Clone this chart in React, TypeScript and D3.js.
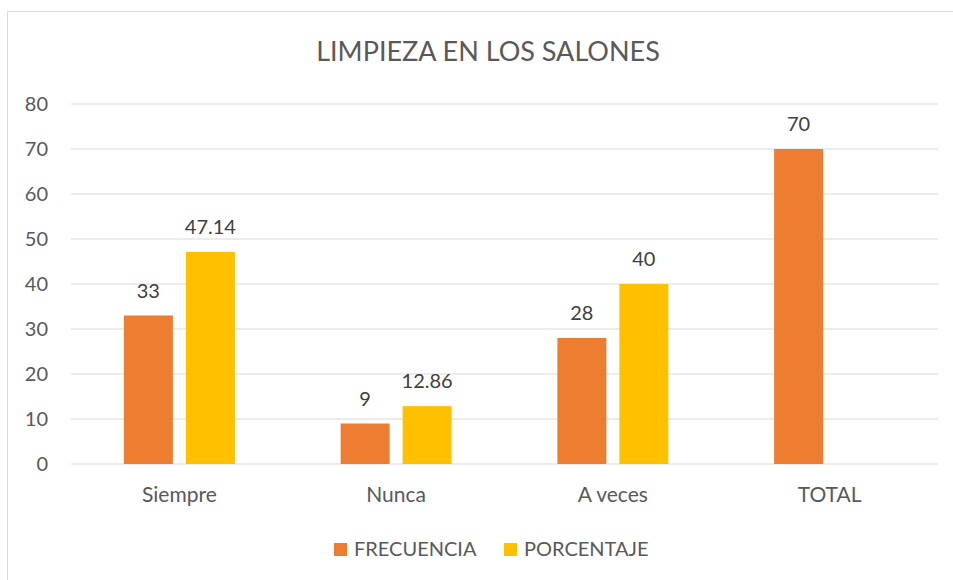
import { useEffect, useRef } from "react";
import * as d3 from "d3";

const categories = ["Siempre", "Nunca", "A veces", "TOTAL"];
const seriesNames = ["FRECUENCIA", "PORCENTAJE"];
const frecuencia = [33, 9, 28, 70];
const porcentaje: (number | null)[] = [47.14, 12.86, 40, null];
const yTicks = [0, 10, 20, 30, 40, 50, 60, 70, 80];
const chartTitle = "LIMPIEZA EN LOS SALONES";

type Row = { cat: string; key: string; value: number };

export default function App() {
  const svgRef = useRef<SVGSVGElement>(null);

  useEffect(() => {
    if (!svgRef.current) return;
    const W = 953, H = 580;
    const margin = { top: 104, right: 15, bottom: 116, left: 71 };
    const width = W - margin.left - margin.right;
    const height = H - margin.top - margin.bottom;
    const font = "Lato, 'Open Sans', sans-serif";
    const textColor = "#595959";

    const svg = d3.select(svgRef.current);
    svg.selectAll("*").remove();

    // chart area border (cut off at right/bottom like the reference)
    svg.append("rect")
      .attr("x", 7.5).attr("y", 11.5)
      .attr("width", W + 20).attr("height", H + 20)
      .attr("fill", "white")
      .attr("stroke", "#d9d9d9")
      .attr("stroke-width", 1);

    svg.append("text")
      .attr("x", 488)
      .attr("y", 61)
      .attr("text-anchor", "middle")
      .attr("font-family", font)
      .attr("font-size", 27)
      .attr("fill", textColor)
      .text(chartTitle);

    const g = svg.append("g")
      .attr("transform", `translate(${margin.left},${margin.top})`);

    const x0 = d3.scaleBand().domain(categories).range([0, width]).padding(0);
    const x1 = d3.scaleBand().domain(seriesNames)
      .range([0, x0.bandwidth()])
      .paddingInner(0.21)
      .paddingOuter(0.853);
    const y = d3.scaleLinear().domain([0, 80]).range([height, 0]);
    const color = d3.scaleOrdinal<string, string>().domain(seriesNames).range(["#ED7D31", "#FFC000"]);

    // gridlines
    g.selectAll("line.grid")
      .data(yTicks)
      .enter()
      .append("line")
      .attr("x1", 0).attr("x2", width)
      .attr("y1", d => y(d)).attr("y2", d => y(d))
      .attr("stroke", "#d9d9d9")
      .attr("stroke-width", 1.2);

    const yAxis = d3.axisLeft<number>(y).tickValues(yTicks).tickSize(0).tickPadding(23);
    const gy = g.append("g").call(yAxis);
    gy.select(".domain").remove();
    gy.selectAll("text")
      .attr("fill", textColor)
      .attr("font-family", font)
      .attr("font-size", 20);

    const xAxis = d3.axisBottom(x0).tickSize(0).tickPadding(23);
    const gx = g.append("g").attr("transform", `translate(0,${height})`).call(xAxis);
    gx.select(".domain").remove();
    gx.selectAll("text")
      .attr("fill", textColor)
      .attr("font-family", font)
      .attr("font-size", 21);

    const rows: Row[] = [];
    categories.forEach((c, i) => {
      rows.push({ cat: c, key: seriesNames[0], value: frecuencia[i] });
      const p = porcentaje[i];
      if (p != null) rows.push({ cat: c, key: seriesNames[1], value: p });
    });

    g.selectAll("rect.bar")
      .data(rows)
      .enter()
      .append("rect")
      .attr("x", d => (x0(d.cat) || 0) + (x1(d.key) || 0))
      .attr("y", d => y(d.value))
      .attr("width", x1.bandwidth())
      .attr("height", d => height - y(d.value))
      .attr("fill", d => color(d.key));

    g.selectAll("text.lbl")
      .data(rows)
      .enter()
      .append("text")
      .attr("x", d => (x0(d.cat) || 0) + (x1(d.key) || 0) + x1.bandwidth() / 2)
      .attr("y", d => y(d.value) - 18)
      .attr("text-anchor", "middle")
      .attr("font-family", font)
      .attr("font-size", 20)
      .attr("fill", "#404040")
      .text(d => String(d.value));

    // legend
    const legendX = [334, 504];
    const lg = svg.append("g");
    lg.selectAll("rect")
      .data(seriesNames)
      .enter()
      .append("rect")
      .attr("x", (_, i) => legendX[i])
      .attr("y", 543)
      .attr("width", 13).attr("height", 13)
      .attr("fill", d => color(d));
    lg.selectAll("text")
      .data(seriesNames)
      .enter()
      .append("text")
      .attr("x", (_, i) => legendX[i] + 20)
      .attr("y", 556)
      .attr("font-family", font)
      .attr("font-size", 20)
      .attr("fill", textColor)
      .text(d => d);
  }, []);

  return (
    <svg ref={svgRef} width={953} height={580}
      style={{ position: "absolute", left: 0, top: 0, display: "block" }}></svg>
  );
}
